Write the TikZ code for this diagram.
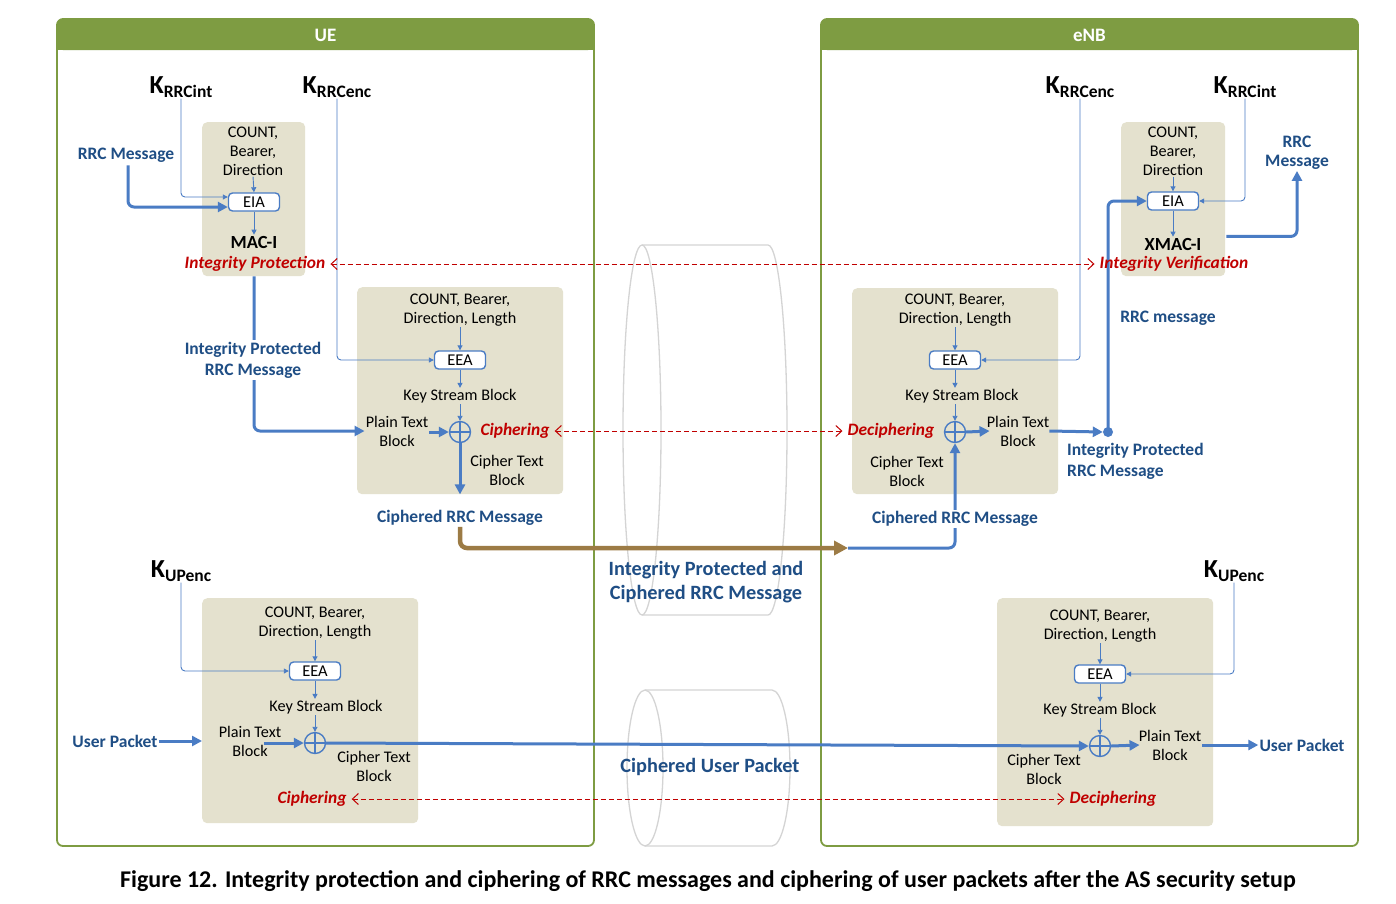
\documentclass[tikz,border=0pt]{standalone}
\usepackage{fontspec}
\setmainfont{Carlito}
\usetikzlibrary{arrows.meta,calc}
\definecolor{greenc}{HTML}{7E9C42}
\definecolor{tanc}{HTML}{E4E1CE}
\definecolor{lineblue}{HTML}{4A7CC4}
\definecolor{dkblue}{HTML}{1F4E85}
\definecolor{redc}{HTML}{C00000}
\definecolor{brownc}{HTML}{9C7B45}
\definecolor{cylc}{HTML}{D4D4D4}
\newcommand\mykey[1]{{\fontsize{26}{26}\selectfont\bfseries K}{\fontsize{17.5}{17.5}\selectfont\bfseries\raisebox{-4pt}{#1}}}
\begin{document}
\begin{tikzpicture}[x=1pt,y=-1pt,
  txt/.style={font=\fontsize{16.2}{19}\selectfont, align=center, inner sep=1pt, text=black},
  blbl/.style={font=\fontsize{17.5}{21}\selectfont\bfseries, text=dkblue, align=center, inner sep=1pt},
  bigblbl/.style={font=\fontsize{20.3}{24}\selectfont\bfseries, text=dkblue, align=center, inner sep=1pt},
  redl/.style={font=\fontsize{17.4}{19}\selectfont\bfseries\itshape, text=redc, inner sep=1pt},
  keyl/.style={inner sep=1pt},
  hdr/.style={font=\fontsize{19}{20}\selectfont\bfseries, text=white},
  tanbox/.style={fill=tanc, rounded corners=5pt, inner sep=0pt, anchor=north west},
  algo/.style={draw=lineblue, fill=white, rounded corners=4pt, line width=1.4pt, minimum width=51pt, minimum height=18pt, inner sep=0pt, font=\fontsize{16.5}{18}\selectfont},
  xor/.style={circle, draw=lineblue, line width=1.4pt, minimum size=21pt, inner sep=0pt,
    path picture={\draw[lineblue, line width=1.4pt] (path picture bounding box.north) -- (path picture bounding box.south) (path picture bounding box.east) -- (path picture bounding box.west);}},
  dotn/.style={circle, fill=lineblue, minimum size=10pt, inner sep=0pt},
  macl/.style={font=\fontsize{18.5}{19}\selectfont\bfseries, inner sep=1pt},
  thinarr/.style={draw=lineblue, line width=0.9pt, rounded corners=4pt, -{Triangle[length=5pt,width=5pt]}},
  thickarr/.style={draw=lineblue, line width=3pt, rounded corners=6pt, -{Triangle[length=10pt,width=10pt]}},
  brownarr/.style={draw=brownc, line width=4.5pt, rounded corners=7pt, -{Triangle[length=14pt,width=14pt]}},
  dasharr/.style={draw=redc, line width=1pt, dash pattern=on 5pt off 3pt, shorten <=4pt, shorten >=4pt, {Straight Barb[length=6pt,width=11pt]}-{Straight Barb[length=6pt,width=11pt]}},
  panel/.style={draw=greenc, line width=1.8pt, rounded corners=6pt},
  cyl/.style={draw=cylc, line width=1.3pt}
]
\useasboundingbox (0,0) rectangle (1396,903);
\fill[white] (0,0) rectangle (1396,903);

% ---------- cylinders ----------
\draw[cyl] (642,430) ellipse [x radius=19, y radius=185];
\draw[cyl] (642,245) -- (768,245) arc[start angle=-90, end angle=90, x radius=19, y radius=185] -- (642,615);
\draw[cyl] (645,768) ellipse [x radius=18, y radius=78];
\draw[cyl] (645,690) -- (772,690) arc[start angle=-90, end angle=90, x radius=18, y radius=78] -- (645,846);

% ---------- panels ----------
\draw[panel] (57,19) rectangle (594,846);
\fill[greenc, rounded corners=6pt] (57,19) rectangle (594,50);
\fill[greenc] (57,36) rectangle (594,50);
\node[hdr] (ue) at (325.5,35) {UE};
\draw[panel] (821,19) rectangle (1358,846);
\fill[greenc, rounded corners=6pt] (821,19) rectangle (1358,50);
\fill[greenc] (821,36) rectangle (1358,50);
\node[hdr] (enb) at (1089.5,35) {eNB};

% ---------- tan boxes ----------
\node[tanbox, minimum width=103pt, minimum height=154pt] (b1) at (202,122) {};
\node[tanbox, minimum width=206pt, minimum height=207pt] (b2) at (357,287) {};
\node[tanbox, minimum width=104pt, minimum height=154pt] (b3) at (1121,122) {};
\node[tanbox, minimum width=206pt, minimum height=206pt] (b4) at (852,288) {};
\node[tanbox, minimum width=216pt, minimum height=225pt] (b5) at (202,598) {};
\node[tanbox, minimum width=216pt, minimum height=228pt] (b6) at (997,598) {};

% ---------- UE integrity ----------
\node[keyl] (kri1) at (181,87) {\mykey{RRCint}};
\node[keyl] (kre1) at (337,87) {\mykey{RRCenc}};
\node[txt] (b1in) at (253,151) {COUNT,\\Bearer,\\Direction};
\node[algo] (eia1) at (254,202) {EIA};
\node[macl] (mac) at (254,242) {MAC-I};
\node[blbl] (rrc1) at (126,155) {RRC Message};
\draw[thinarr] (b1in.south) -- (eia1.north);
\draw[thinarr] (eia1.south) -- (mac.north);
\draw[thinarr] (kri1.south) |- ($(eia1.west)+(0,-5)$);
\draw[thickarr] ($(rrc1.south)+(2,2)$) |- ($(eia1.west)+(0,5)$);

% ---------- UE ciphering ----------
\node[txt] (b2in) at (460,310) {COUNT, Bearer,\\Direction, Length};
\node[algo] (eea1) at (460,360) {EEA};
\node[txt] (ks1) at (460,396) {Key Stream Block};
\node[xor] (x1) at (460,432) {};
\node[txt] (pt1) at (397,431) {Plain Text\\Block};
\node[txt] (ct1) at (507,470) {Cipher Text\\Block};
\draw[thinarr] (b2in.south) -- (eea1.north);
\draw[thinarr] (eea1.south) -- (ks1.north);
\draw[thinarr] (ks1.south) -- (x1.north);
\draw[thinarr] (kre1.south) |- (eea1.west);
\draw[thickarr] (pt1.east |- x1.west) -- (x1.west);
\draw[thickarr] (x1.south) -- (x1 |- b2.south);
\draw[thickarr] (b1.south -| eia1) |- (pt1.west);
\node[blbl, fill=white, inner sep=2pt] (ipm1) at (253,360) {Integrity Protected\\RRC Message};
\node[blbl, fill=white] (crm1) at (460,518) {Ciphered RRC Message};

% ---------- eNB integrity ----------
\node[keyl] (kre2) at (1080,87) {\mykey{RRCenc}};
\node[keyl] (kri2) at (1245,87) {\mykey{RRCint}};
\node[txt] (b3in) at (1173,151) {COUNT,\\Bearer,\\Direction};
\node[algo] (eia2) at (1173,201) {EIA};
\node[macl] (xmac) at (1173,244) {XMAC-I};
\node[blbl, font=\fontsize{17.5}{19}\selectfont\bfseries] (rrc2) at (1297,153) {RRC\\Message};
\node[blbl] (rrcm) at (1168,318) {RRC message};
\draw[thinarr] (b3in.south) -- (eia2.north);
\draw[thinarr] (eia2.south) -- (xmac.north);
\draw[thinarr] (kri2.south) |- (eia2.east);
\draw[thickarr] ($(b3.south east)+(1,-40)$) -| (rrc2.south);

% ---------- eNB deciphering ----------
\node[txt] (b4in) at (955,310) {COUNT, Bearer,\\Direction, Length};
\node[algo] (eea2) at (955,360) {EEA};
\node[txt] (ks2) at (962,396) {Key Stream Block};
\node[xor] (x2) at (955,432) {};
\node[txt] (pt2) at (1018,431) {Plain Text\\Block};
\node[txt] (ct2) at (907,471) {Cipher Text\\Block};
\node[dotn] (dot) at (1108,432) {};
\node[blbl, anchor=north west, align=left] (ipm2) at (1066,442) {Integrity Protected\\RRC Message};
\draw[thinarr] (b4in.south -| eea2) -- (eea2.north);
\draw[thinarr] (eea2.south) -- (eea2 |- ks2.north);
\draw[thinarr] (x2 |- ks2.south) -- (x2.north);
\draw[thinarr] (kre2.south) |- (eea2.east);
\draw[thickarr] (x2.east) -- ($(pt2.west)+(4,0)$);
\draw[thickarr] ($(pt2.east)+(-1,0)$) -- (dot.west);
\draw[thickarr] (dot.center) |- (eia2.west);

% ---------- transfer of RRC ----------
\coordinate (bend) at (848,548);
\draw[brownarr] (crm1.south) |- (bend);
\draw[thickarr] (bend) -| (x2.south);
\node[blbl, fill=white] (crm2) at (955,519) {Ciphered RRC Message};
\node[bigblbl] (ipc) at (706,582) {Integrity Protected and\\Ciphered RRC Message};

% ---------- UE user plane ----------
\node[keyl] (kup1) at (181,571) {\mykey{UPenc}};
\node[txt] (b5in) at (315,623) {COUNT, Bearer,\\Direction, Length};
\node[algo] (eea3) at (315,671) {EEA};
\node[txt] (ks3) at (326,707) {Key Stream Block};
\node[xor] (x3) at (315,743) {};
\node[txt] (pt3) at (250,741) {Plain Text\\Block};
\node[txt] (ct3) at (374,766) {Cipher Text\\Block};
\node[blbl] (up1) at (115,741) {User Packet};
\draw[thinarr] (b5in.south -| eea3) -- (eea3.north);
\draw[thinarr] (eea3.south) -- (eea3 |- ks3.north);
\draw[thinarr] (x3 |- ks3.south) -- (x3.north);
\draw[thinarr] (kup1.south) |- (eea3.west);
\draw[thickarr] (up1.east) -- (up1.east -| b5.west);
\draw[thickarr] ($(x3.west)+(-40,0)$) -- (x3.west);

% ---------- eNB user plane ----------
\node[keyl] (kup2) at (1234,571) {\mykey{UPenc}};
\node[txt] (b6in) at (1100,626) {COUNT, Bearer,\\Direction, Length};
\node[algo] (eea4) at (1100,674) {EEA};
\node[txt] (ks4) at (1100,710) {Key Stream Block};
\node[xor] (x4) at (1100,746) {};
\node[txt] (pt4) at (1170,745) {Plain Text\\Block};
\node[txt] (ct4) at (1044,769) {Cipher Text\\Block};
\node[blbl] (up2) at (1302,745) {User Packet};
\draw[thinarr] (b6in.south) -- (eea4.north);
\draw[thinarr] (eea4.south) -- (ks4.north);
\draw[thinarr] (ks4.south) -- (x4.north);
\draw[thinarr] (kup2.south) |- (eea4.east);
\draw[thickarr] (x4.east) -- ($(pt4.west)+(2,0)$);
\draw[thickarr] (pt4.east) -- (up2.west);

% ---------- cross links ----------
\draw[thickarr] (x3.east) -- (x4.west);
\node[bigblbl] (cup) at (710,767) {Ciphered User Packet};

% ---------- red labels and dashed links ----------
\node[redl] (ip) at (255,264) {Integrity Protection};
\node[redl] (iv) at (1174,264) {Integrity Verification};
\node[redl] (ciph1) at (515,431) {Ciphering};
\node[redl] (deciph1) at (891,431) {Deciphering};
\node[redl] (ciph3) at (312,799) {Ciphering};
\node[redl] (deciph3) at (1113,799) {Deciphering};
\draw[dasharr] (ip.east) -- (iv.west);
\draw[dasharr] (ciph1.east) -- (deciph1.west);
\draw[dasharr] (ciph3.east) -- (deciph3.west);

% ---------- caption ----------
\node[font=\fontsize{24}{26}\selectfont\bfseries] (cap) at (708,881) {Figure 12. Integrity protection and ciphering of RRC messages and ciphering of user packets after the AS security setup};
\end{tikzpicture}
\end{document}
